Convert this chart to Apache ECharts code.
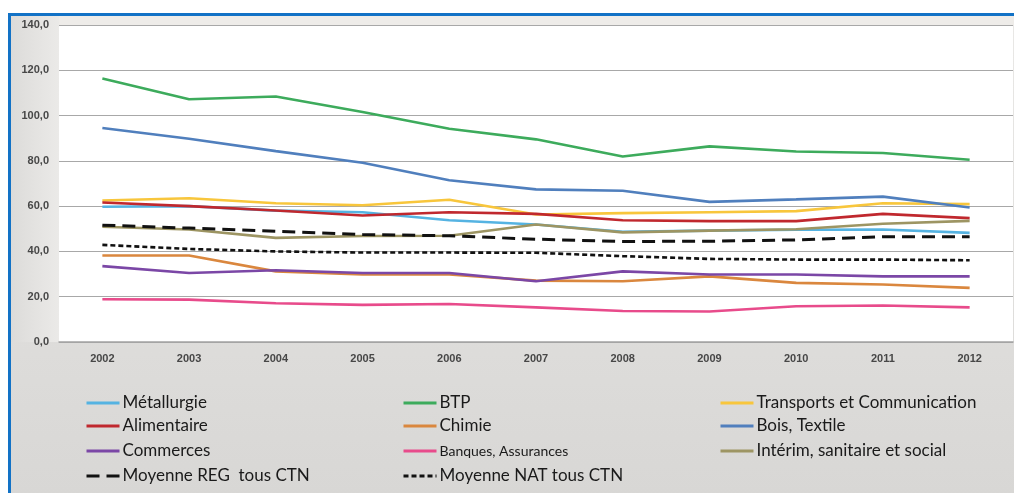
<!DOCTYPE html>
<html>
<head>
<meta charset="utf-8">
<script src="https://cdn.jsdelivr.net/npm/echarts@6/dist/echarts.min.js"></script>
<style>
html,body{margin:0;padding:0;background:#fff;}
#c{width:1014px;height:493px;}
</style>
</head>
<body>
<div id="c"></div>
<script>
var categories = ['2002','2003','2004','2005','2006','2007','2008','2009','2010','2011','2012'];
var yTicks = [0, 20, 40, 60, 80, 100, 120, 140];

var metallurgie = [59.7, 60.0, 58.0, 57.3, 53.8, 51.9, 48.7, 49.2, 49.6, 49.7, 48.2];
var btp         = [116.4, 107.2, 108.4, 101.6, 94.2, 89.5, 81.9, 86.4, 84.1, 83.5, 80.5];
var transports  = [62.5, 63.5, 61.3, 60.4, 62.8, 56.3, 56.9, 57.3, 57.8, 61.3, 60.9];
var alimentaire = [61.6, 60.0, 58.1, 55.9, 57.3, 56.6, 53.8, 53.4, 53.4, 56.6, 54.7];
var chimie      = [38.2, 38.2, 31.2, 29.8, 29.8, 27.1, 26.8, 29.0, 26.1, 25.4, 23.9];
var bois        = [94.5, 89.8, 84.3, 79.2, 71.4, 67.4, 66.8, 61.9, 63.0, 64.2, 59.4];
var commerces   = [33.5, 30.5, 31.7, 30.5, 30.5, 26.8, 31.2, 29.8, 29.8, 29.0, 29.0];
var banques     = [18.9, 18.7, 17.1, 16.4, 16.8, 15.3, 13.7, 13.5, 15.8, 16.1, 15.3];
var interim     = [50.9, 49.7, 46.0, 46.8, 46.9, 51.9, 48.4, 49.2, 49.8, 52.2, 53.5];
var moyReg      = [51.6, 50.3, 48.9, 47.5, 46.9, 45.4, 44.4, 44.5, 45.1, 46.5, 46.5];
var moyNat      = [42.9, 41.1, 40.0, 39.5, 39.5, 39.4, 37.9, 36.7, 36.4, 36.4, 36.1];

var seriesNames = ['Métallurgie','BTP','Transports et Communication','Alimentaire','Chimie','Bois, Textile','Commerces','Banques, Assurances','Intérim, sanitaire et social','Moyenne REG  tous CTN','Moyenne NAT tous CTN'];
var seriesData = [metallurgie, btp, transports, alimentaire, chimie, bois, commerces, banques, interim, moyReg, moyNat];
var seriesColors = ['#55b3e2','#3dab5c','#f8c63c','#c0282e','#da873e','#507fbd','#7b47a6','#e84b8b','#9d9563','#111111','#111111'];
var seriesDash = ['solid','solid','solid','solid','solid','solid','solid','solid','solid',[13,7],[5,3]];
var seriesWidth = [2.6,2.6,2.6,2.6,2.6,2.6,2.6,2.6,2.6,3,2.6];

// legend layout (column x of icon, row center y)
var legCols = [85, 402, 719];
var legRows = [403, 426, 451, 476];

var chart = echarts.init(document.getElementById('c'), null, {renderer:'canvas'});

var series = seriesNames.map(function(n, i){
  return {
    name: n, type: 'line', data: seriesData[i], symbol: 'none', showSymbol: false,
    z: 3 + (i >= 9 ? 1 : 0),
    lineStyle: { color: seriesColors[i], width: seriesWidth[i], type: seriesDash[i] },
    itemStyle: { color: seriesColors[i] },
    animation: false
  };
});

var legends = seriesNames.map(function(n, i){
  var col = i % 3, row = Math.floor(i / 3);
  var fs = (i === 7) ? 14 : 17;
  return {
    data: [{ name: n }],
    left: legCols[col], top: legRows[row] - 9,
    orient: 'horizontal', padding: 0,
    itemWidth: 33, itemHeight: 18, itemGap: 0,
    itemStyle: { opacity: 0, borderWidth: 0 },
    lineStyle: { width: 3, type: seriesDash[i], color: seriesColors[i] },
    textStyle: { fontFamily: 'Lato', fontSize: fs, color: '#1a1a1a', lineHeight: 18, padding: [0,0,0,-2] },
    selectedMode: false
  };
});

var option = {
  backgroundColor: '#ffffff',
  animation: false,
  graphic: [
    { type: 'rect', z: -10, shape: { x: 10, y: 14, width: 1010, height: 480 },
      style: { fill: new echarts.graphic.LinearGradient(0,0,0,1,[{offset:0,color:'#e9e8e6'},{offset:1,color:'#d8d7d5'}]) } },
    { type: 'rect', z: -9, shape: { x: 10, y: 16, width: 1010, height: 9 }, style: { fill: '#eeece9' } },
    { type: 'rect', z: -9, shape: { x: 10, y: 16, width: 49, height: 326 },
      style: { fill: new echarts.graphic.LinearGradient(0,0,1,0,[{offset:0,color:'#dcdbd9'},{offset:1,color:'#ebeae8'}]) } },
    { type: 'rect', z: 10, shape: { x: 8, y: 13, width: 1010, height: 3 }, style: { fill: '#1272c6' } },
    { type: 'rect', z: 10, shape: { x: 8, y: 13, width: 3, height: 482 }, style: { fill: '#1272c6' } }
  ],
  grid: { left: 59, top: 25, right: 1, bottom: 151, show: true, backgroundColor: '#ffffff', borderWidth: 0 },
  legend: legends,
  xAxis: {
    type: 'category', data: categories, boundaryGap: true,
    axisLine: { lineStyle: { color: '#a3a3a3', width: 1.5 } },
    axisTick: { show: false },
    axisLabel: { margin: 11, fontFamily: 'Liberation Sans', fontWeight: 'bold', fontSize: 11, color: '#474747' },
    splitLine: { show: false }
  },
  yAxis: {
    type: 'value', min: yTicks[0], max: yTicks[yTicks.length-1], interval: 20,
    axisLine: { show: false }, axisTick: { show: false },
    axisLabel: { margin: 10, fontFamily: 'Liberation Sans', fontWeight: 'bold', fontSize: 11, color: '#474747',
      formatter: function(v){ return v.toFixed(1).replace('.', ','); } },
    splitLine: { lineStyle: { color: '#a8a8a8', width: 1 } }
  },
  series: series
};
chart.setOption(option);
</script>
</body>
</html>
